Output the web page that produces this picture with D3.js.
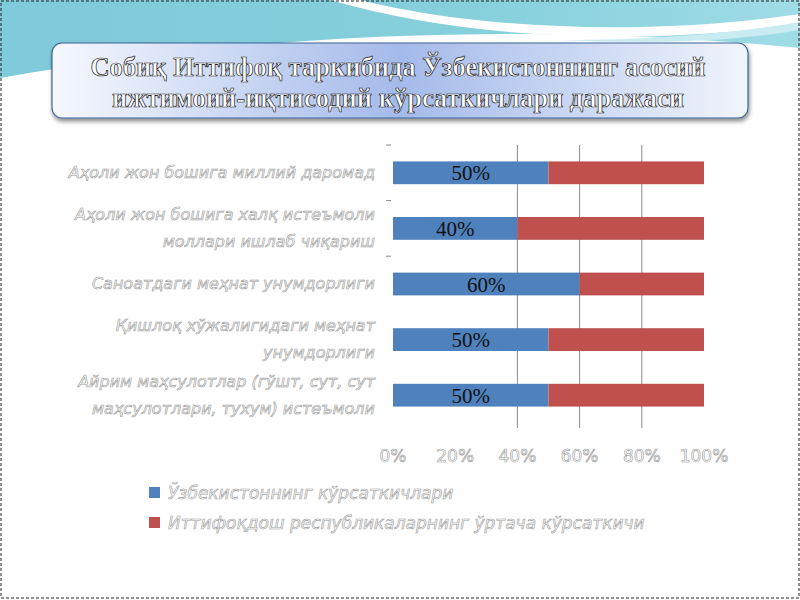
<!DOCTYPE html>
<html><head><meta charset="utf-8">
<script src="https://cdn.jsdelivr.net/npm/d3@7"></script>
<style>html,body{margin:0;padding:0;background:#fff;}svg{display:block;}</style>
</head><body>
<script>
const categories = [
  ["Аҳоли жон бошига миллий даромад"],
  ["Аҳоли жон бошига халқ истеъмоли", "моллари ишлаб чиқариш"],
  ["Саноатдаги меҳнат унумдорлиги"],
  ["Қишлоқ хўжалигидаги меҳнат", "унумдорлиги"],
  ["Айрим маҳсулотлар (гўшт, сут, сут", "маҳсулотлари, тухум) истеъмоли"]
];
const uzbekValues = [50, 40, 60, 50, 50];
const unionValues = [50, 60, 40, 50, 50];
const seriesNames = ["Ўзбекистоннинг кўрсаткичлари", "Иттифоқдош республикаларнинг ўртача кўрсаткичи"];
const tickValues = [0, 20, 40, 60, 80, 100];
const titleLines = ["Собиқ Иттифоқ таркибида Ўзбекистоннинг асосий", "ижтимоий-иқтисодий кўрсаткичлари даражаси"];

const W = 800, H = 600;
const svg = d3.select("body").append("svg").attr("width", W).attr("height", H);
const defs = svg.append("defs");

// background decoration
const tg = defs.append("linearGradient").attr("id", "topg").attr("x1", 0).attr("y1", 0).attr("x2", 1).attr("y2", 0);
tg.append("stop").attr("offset", "0%").attr("stop-color", "#7fcadb");
tg.append("stop").attr("offset", "60%").attr("stop-color", "#86d0dc");
tg.append("stop").attr("offset", "100%").attr("stop-color", "#9fdce6");
svg.append("rect").attr("width", W).attr("height", H).attr("fill", "#fff");
svg.append("path").attr("d", "M0,0 L800,0 L800,48 C620,30 330,20 0,78 Z").attr("fill", "url(#topg)");
svg.append("path").attr("d", "M360,0 C480,30 650,36 800,14 L800,24 C640,46 470,40 330,0 Z").attr("fill", "#ffffff");
svg.append("path").attr("d", "M560,40 C660,40 740,32 800,22 L800,30 C730,42 650,44 560,40 Z").attr("fill", "#c8ecf2");
svg.append("rect").attr("x", 1).attr("y", 1).attr("width", W - 2).attr("height", H - 3)
  .attr("fill", "none").attr("stroke", "#222").attr("stroke-width", 1).attr("stroke-dasharray", "3,2");

// title box
const bg = defs.append("linearGradient").attr("id", "boxg").attr("x1", 0).attr("y1", 0).attr("x2", 1).attr("y2", 0);
bg.append("stop").attr("offset", "0%").attr("stop-color", "#f6f8fe");
bg.append("stop").attr("offset", "50%").attr("stop-color", "#a4baea");
bg.append("stop").attr("offset", "100%").attr("stop-color", "#f0f4fc");
const sh = defs.append("filter").attr("id", "shadow").attr("x", "-5%").attr("y", "-20%").attr("width", "110%").attr("height", "150%");
sh.append("feDropShadow").attr("dx", 1).attr("dy", 3).attr("stdDeviation", 2).attr("flood-color", "#000").attr("flood-opacity", 0.45);
svg.append("rect").attr("x", 52).attr("y", 43).attr("width", 696).attr("height", 75).attr("rx", 10)
  .attr("fill", "url(#boxg)").attr("stroke", "#3d6496").attr("stroke-width", 1.2).attr("filter", "url(#shadow)");
svg.selectAll("text.title").data(titleLines).join("text").attr("class", "title")
  .attr("x", 398).attr("y", (d, i) => 76 + i * 31)
  .attr("text-anchor", "middle")
  .style("font-family", "'Liberation Serif', 'Times New Roman', serif")
  .style("font-weight", "bold").style("font-size", "26.5px")
  .attr("fill", "#fff").attr("stroke", "#1a1a1a").attr("stroke-width", 0.7)
  .text(d => d);

// chart
const x = d3.scaleLinear().domain([0, 100]).range([393, 704]);
const y = d3.scaleBand().domain(d3.range(categories.length)).range([145, 423]).paddingInner(0.59).paddingOuter(0.295);

const g = svg.append("g");
g.selectAll("line.grid").data([40, 60, 80]).join("line").attr("class", "grid")
  .attr("x1", d => x(d)).attr("x2", d => x(d)).attr("y1", 145).attr("y2", 428)
  .attr("stroke", "#8c8c8c").attr("stroke-width", 1);
g.selectAll("line.ctick").data(d3.range(3)).join("line").attr("class", "ctick")
  .attr("x1", 386).attr("x2", 391)
  .attr("y1", d => y(d) - y.step() * y.paddingInner() / 2).attr("y2", d => y(d) - y.step() * y.paddingInner() / 2)
  .attr("stroke", "#888");

const rows = uzbekValues.map((v, i) => ({ i, a: v, b: unionValues[i] }));
g.selectAll("rect.uz").data(rows).join("rect").attr("class", "uz")
  .attr("x", x(0)).attr("y", d => y(d.i)).attr("width", d => x(d.a) - x(0)).attr("height", y.bandwidth())
  .attr("fill", "#4f81bd");
g.selectAll("rect.un").data(rows).join("rect").attr("class", "un")
  .attr("x", d => x(d.a)).attr("y", d => y(d.i)).attr("width", d => x(d.a + d.b) - x(d.a)).attr("height", y.bandwidth())
  .attr("fill", "#c0504d");
g.selectAll("text.val").data(rows).join("text").attr("class", "val")
  .attr("x", d => (x(0) + x(d.a)) / 2).attr("y", d => y(d.i) + y.bandwidth() / 2 + 7.5)
  .attr("text-anchor", "middle")
  .style("font-family", "'Liberation Serif', 'Times New Roman', serif").style("font-size", "21px")
  .attr("fill", "#111").text(d => d.a + "%");

const lab = g.selectAll("text.cat").data(categories).join("text").attr("class", "cat")
  .attr("text-anchor", "end")
  .style("font-family", "'DejaVu Sans', sans-serif").style("font-style", "italic").style("font-size", "16px")
  .attr("fill", "#fff").attr("stroke", "#999").attr("stroke-width", 0.6);
lab.each(function (lines, i) {
  const cy = y(i) + y.bandwidth() / 2;
  const n = lines.length;
  d3.select(this).selectAll("tspan").data(lines).join("tspan")
    .attr("x", 375).attr("y", (d, k) => cy + 5 + (k - (n - 1) / 2) * 27)
    .text(d => d);
});

g.selectAll("text.tick").data(tickValues).join("text").attr("class", "tick")
  .attr("x", d => x(d)).attr("y", 462).attr("text-anchor", "middle")
  .style("font-family", "'DejaVu Sans', sans-serif").style("font-size", "17px")
  .attr("fill", "#fff").attr("stroke", "#999").attr("stroke-width", 0.6)
  .text(d => d + "%");

const colors = ["#4f81bd", "#c0504d"];
const leg = g.selectAll("g.leg").data(seriesNames).join("g").attr("class", "leg")
  .attr("transform", (d, i) => `translate(149,${487 + i * 30})`);
leg.append("rect").attr("width", 11).attr("height", 11).attr("fill", (d, i) => colors[i]);
leg.append("text").attr("x", 19).attr("y", 12)
  .style("font-family", "'DejaVu Sans', sans-serif").style("font-style", "italic").style("font-size", "17px")
  .attr("fill", "#fff").attr("stroke", "#999").attr("stroke-width", 0.6)
  .text(d => d);
</script>
</body></html>
